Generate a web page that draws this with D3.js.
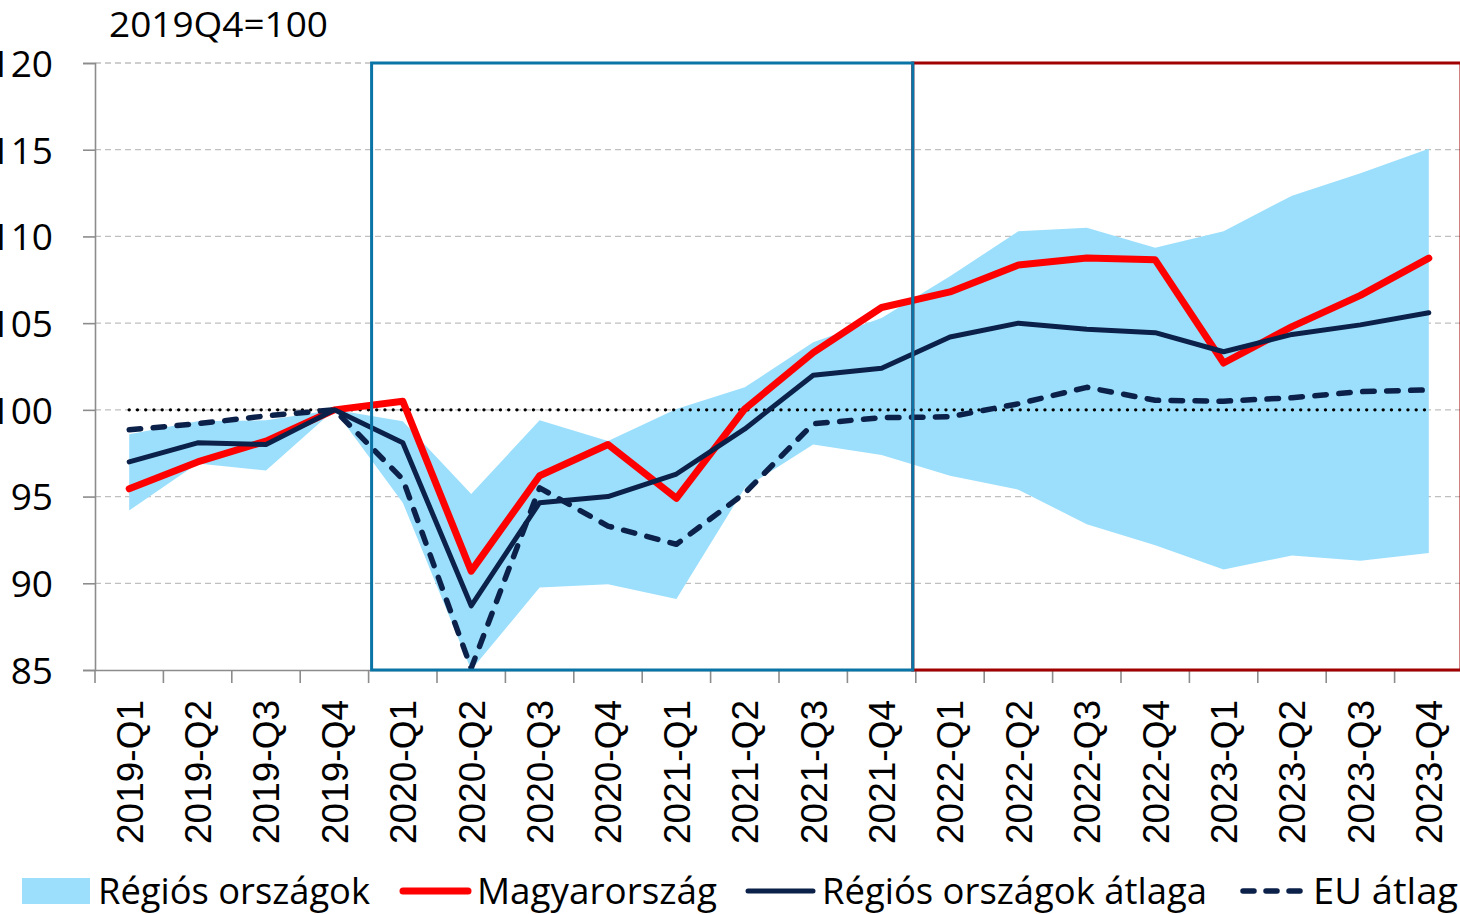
<!DOCTYPE html>
<html>
<head>
<meta charset="utf-8">
<script src="https://cdn.jsdelivr.net/npm/d3@7"></script>
<style>
  body { margin: 0; background: #fff; }
  svg { display: block; }
</style>
</head>
<body>
<div id="chart"></div>
<script>
// data
const quarters = ["2019-Q1","2019-Q2","2019-Q3","2019-Q4","2020-Q1","2020-Q2","2020-Q3","2020-Q4",
                  "2021-Q1","2021-Q2","2021-Q3","2021-Q4","2022-Q1","2022-Q2","2022-Q3","2022-Q4",
                  "2023-Q1","2023-Q2","2023-Q3","2023-Q4"];
const regionHigh = [98.6, 99.35, 99.4, 100, 99.35, 95.15, 99.4, 98.2, 100.05, 101.3,
                    103.9, 105.3, 107.7, 110.3, 110.5, 109.35, 110.3, 112.35, 113.65, 115.05];
const regionLow  = [94.2, 96.9, 96.5, 100, 94.65, 85.0, 89.75, 89.95, 89.1, 95.5,
                    98.0, 97.4, 96.2, 95.4, 93.4, 92.2, 90.8, 91.6, 91.3, 91.75];
const hungary    = [95.45, 97.0, 98.2, 100, 100.5, 90.7, 96.2, 98.0, 94.9, 100.05,
                    103.3, 105.9, 106.8, 108.35, 108.75, 108.65, 102.7, 104.8, 106.6, 108.75];
const regionAvg  = [97.0, 98.1, 98.0, 100, 98.1, 88.7, 94.65, 95.0, 96.3, 98.9,
                    102.0, 102.4, 104.2, 105.0, 104.65, 104.45, 103.35, 104.35, 104.9, 105.6];
const euAvg      = [98.85, 99.2, 99.65, 100, 96.0, 85.1, 95.5, 93.3, 92.25, 95.2,
                    99.2, 99.55, 99.6, 100.35, 101.3, 100.55, 100.5, 100.7, 101.05, 101.15];
const baseLevel = 100;
const yTicks = [85, 90, 95, 100, 105, 110, 115, 120];
const covidStart = "2020-Q1", forecastStart = "2022-Q1";
const legendItems = [
  {label: "Régiós országok", kind: "area"},
  {label: "Magyarország", kind: "hu"},
  {label: "Régiós országok átlaga", kind: "avg"},
  {label: "EU átlag", kind: "eu"}
];

const W = 1460, H = 914;
const margin = {top: 63, left: 95, bottom: 244, right: -3};
const width = W - margin.left - margin.right;
const height = H - margin.top - margin.bottom;

const colors = {band: "#9BDFFC", hu: "#FF0000", avg: "#0C2149", eu: "#0C2149",
                covid: "#0B74A6", forecast: "#A00000", grid: "#BFBFBF", axis: "#8C8C8C"};
const widths = {hu: 7, avg: 5, eu: 5.5};
const euDash = "11.5,12.5";
const textFont = "'Open Sans', 'Noto Sans', sans-serif";

const svg = d3.select("#chart").append("svg")
    .attr("width", W).attr("height", H)
  .append("g")
    .attr("transform", `translate(${margin.left},${margin.top})`);

const x = d3.scaleBand().domain(quarters).range([0, width]);
const y = d3.scaleLinear().domain([85, 120]).range([height, 0]);
const cx = q => x(q) + x.bandwidth() / 2;

const rows = quarters.map((q, i) => ({q, hi: regionHigh[i], lo: regionLow[i],
  hu: hungary[i], avg: regionAvg[i], eu: euAvg[i], base: baseLevel}));

// gridlines
svg.append("g").selectAll("line")
  .data(yTicks.filter(t => t > 85))
  .join("line")
    .attr("x1", 0).attr("x2", width)
    .attr("y1", d => y(d)).attr("y2", d => y(d))
    .attr("stroke", colors.grid)
    .attr("stroke-width", 1.3)
    .attr("stroke-dasharray", "6,4");

// band of regional countries
const area = d3.area()
    .x(d => cx(d.q))
    .y0(d => y(d.lo))
    .y1(d => y(d.hi));
svg.append("path")
    .datum(rows)
    .attr("fill", colors.band)
    .attr("d", area);

const lineOf = key => d3.line().x(d => cx(d.q)).y(d => y(d[key]));

// 100 reference line
svg.append("path")
    .datum(rows)
    .attr("fill", "none")
    .attr("stroke", "#000")
    .attr("stroke-width", 3.4)
    .attr("stroke-linecap", "round")
    .attr("stroke-dasharray", "0,8.25")
    .attr("d", lineOf("base"));

["hu", "avg", "eu"].forEach(key => {
  svg.append("path")
      .datum(rows)
      .attr("fill", "none")
      .attr("stroke", colors[key])
      .attr("stroke-width", widths[key])
      .attr("stroke-linejoin", "round")
      .attr("stroke-linecap", "round")
      .attr("stroke-dasharray", key === "eu" ? euDash : null)
      .attr("d", lineOf(key));
});

// y axis
const yAxis = d3.axisLeft(y).tickValues(yTicks).tickSize(12).tickPadding(30);
const gy = svg.append("g").call(yAxis);
gy.select(".domain").attr("stroke", colors.axis).attr("stroke-width", 1.6);
gy.selectAll(".tick line").attr("stroke", colors.axis).attr("stroke-width", 1.6);
gy.selectAll(".tick text")
    .attr("font-family", textFont)
    .attr("font-size", 37)
    .attr("fill", "#000")
    .attr("dy", "0.36em");

// x axis: labels centred, ticks on category boundaries
const xAxis = d3.axisBottom(x).tickSize(0).tickPadding(0);
const gx = svg.append("g")
    .attr("transform", `translate(0,${height})`)
    .call(xAxis);
gx.select(".domain").attr("stroke", colors.axis).attr("stroke-width", 1.6);
gx.selectAll(".tick text")
    .attr("font-family", "'Liberation Sans', Arial, sans-serif")
    .attr("font-size", 37)
    .attr("fill", "#000")
    .attr("text-anchor", "end")
    .attr("transform", "translate(0,30) rotate(-90)")
    .attr("x", 0).attr("y", 0)
    .attr("dy", "0.36em");
gx.append("g").selectAll("line")
  .data(quarters.concat([null]))
  .join("line")
    .attr("x1", d => d ? x(d) : width).attr("x2", d => d ? x(d) : width)
    .attr("y1", 0).attr("y2", 13)
    .attr("stroke", colors.axis)
    .attr("stroke-width", 1.6);

// highlighted periods
const covidX0 = x(covidStart) + 3, covidX1 = x(forecastStart) - 3;
svg.append("rect")
    .attr("x", covidX1).attr("y", 0)
    .attr("width", W - margin.left - covidX1 + 1).attr("height", height)
    .attr("fill", "none")
    .attr("stroke", colors.forecast)
    .attr("stroke-width", 3);
svg.append("rect")
    .attr("x", covidX0).attr("y", 0)
    .attr("width", covidX1 - covidX0).attr("height", height)
    .attr("fill", "none")
    .attr("stroke", colors.covid)
    .attr("stroke-width", 3);

// title
svg.append("text")
    .attr("x", 109 - margin.left).attr("y", 37 - margin.top)
    .attr("font-family", textFont)
    .attr("font-size", 34)
    .attr("textLength", 219)
    .attr("lengthAdjust", "spacingAndGlyphs")
    .text("2019Q4=100");

// legend
const legendPos = [
  {sx: 22, tx: 98, tw: 272},
  {sx: 400, tx: 477, tw: 240},
  {sx: 745, tx: 822, tw: 385},
  {sx: 1240, tx: 1313, tw: 145}
];
const legend = d3.select("svg").append("g");
legendItems.forEach((item, i) => {
  const p = legendPos[i];
  const g = legend.append("g");
  if (item.kind === "area") {
    g.append("rect").attr("x", p.sx).attr("y", 878).attr("width", 68).attr("height", 26)
      .attr("fill", colors.band);
  } else {
    g.append("line")
      .attr("x1", p.sx + 3).attr("x2", p.sx + (item.kind === "eu" ? 62 : 68))
      .attr("y1", 891).attr("y2", 891)
      .attr("stroke", colors[item.kind])
      .attr("stroke-width", widths[item.kind])
      .attr("stroke-linecap", "round")
      .attr("stroke-dasharray", item.kind === "eu" ? "11,12" : null);
  }
  g.append("text")
    .attr("x", p.tx).attr("y", 904)
    .attr("font-family", textFont)
    .attr("font-size", 37)
    .attr("textLength", p.tw)
    .attr("lengthAdjust", "spacingAndGlyphs")
    .text(item.label);
});
</script>
</body>
</html>
